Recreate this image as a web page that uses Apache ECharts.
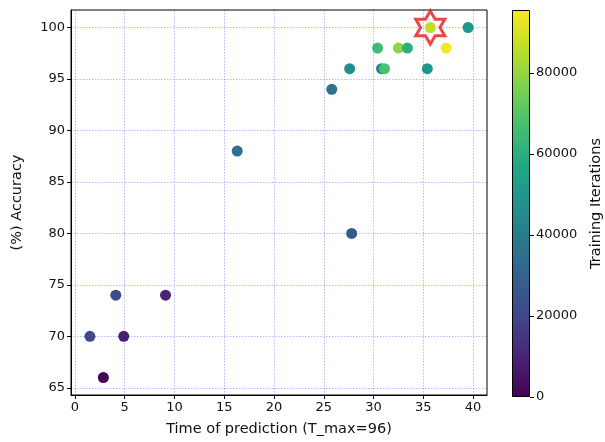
<!DOCTYPE html>
<html>
<head>
<meta charset="utf-8">
<script src="https://cdn.jsdelivr.net/npm/echarts@6/dist/echarts.min.js"></script>
<style>html,body{margin:0;padding:0;background:#fff;}#c{width:605px;height:442px;}</style>
</head>
<body>
<div id="c"></div>
<script>
// Data: [time of prediction, accuracy, training iterations]
const timeOfPrediction = [35.7, 39.5, 30.4, 32.5, 33.4, 37.3, 27.6, 30.8, 31.1, 35.4, 25.8, 16.3, 27.8, 4.1, 9.1, 1.5, 4.9, 2.85];
const accuracy =         [100,  100,  98,   98,   98,   98,   96,   96,   96,   96,   94,   88,   80,   74,  74,  70,  70,  66];
const iterations =       [86000, 50000, 65000, 79000, 60000, 94000, 47000, 43000, 68000, 50000, 36000, 35000, 27000, 22000, 10000, 21000, 8000, 1000];
const bestPoint = [[35.7, 100]];
const xTicks = [0, 5, 10, 15, 20, 25, 30, 35, 40];
const yTicks = [65, 70, 75, 80, 85, 90, 95, 100];
const cbTicks = [0, 20000, 40000, 60000, 80000];
const cbMax = 95500;

const viridis = ['#440154','#482475','#414487','#355f8d','#2a788e','#21918c','#22a884','#44bf70','#7ad151','#bddf26','#fde725'];
const points = timeOfPrediction.map((t, i) => [t, accuracy[i], iterations[i]]);

const font = 'DejaVu Sans';
const txt = '#111';
const tickFont = 13;
const nameFont = 14.5;
const gridLine = { show: true, lineStyle: { color: 'rgba(0,0,255,0.28)', type: [1.5, 1.5], width: 1 } };

const chart = echarts.init(document.getElementById('c'));
chart.setOption({
  animation: false,
  backgroundColor: '#fff',
  grid: [
    { left: 71, right: 118, top: 10, bottom: 45, show: true, borderColor: '#000', borderWidth: 1 },
    { left: 512, top: 10, width: 19, height: 387 }
  ],
  xAxis: [
    {
      type: 'value', gridIndex: 0, min: -0.4, max: 41.4,
      name: 'Time of prediction (T_max=96)', nameLocation: 'middle', nameGap: 27,
      nameTextStyle: { fontFamily: font, fontSize: nameFont, color: txt },
      axisLine: { show: true, onZero: false, lineStyle: { color: '#000' } },
      axisTick: { show: true, length: 4, lineStyle: { color: '#000' }, customValues: xTicks },
      axisLabel: { fontFamily: font, fontSize: tickFont, color: txt, margin: 6, customValues: xTicks },
      splitLine: gridLine
    },
    {
      type: 'category', gridIndex: 1, data: ['cb'], show: false
    }
  ],
  yAxis: [
    {
      type: 'value', gridIndex: 0, min: 64.3, max: 101.7,
      name: '(%) Accuracy', nameLocation: 'middle', nameGap: 46, nameRotate: 90,
      nameTextStyle: { fontFamily: font, fontSize: nameFont, color: txt },
      axisLine: { show: true, onZero: false, lineStyle: { color: '#000' } },
      axisTick: { show: true, length: 4, lineStyle: { color: '#000' }, customValues: yTicks },
      axisLabel: { fontFamily: font, fontSize: tickFont, color: txt, margin: 6, customValues: yTicks },
      splitLine: gridLine
    },
    {
      type: 'value', gridIndex: 1, min: 0, max: cbMax, position: 'right',
      name: 'Training Iterations', nameLocation: 'middle', nameGap: 59, nameRotate: 90,
      nameTextStyle: { fontFamily: font, fontSize: nameFont, color: txt },
      axisLine: { show: false },
      axisTick: { show: true, length: 4, lineStyle: { color: '#000' }, customValues: cbTicks },
      axisLabel: { fontFamily: font, fontSize: tickFont, color: txt, margin: 6, customValues: cbTicks,
        formatter: v => String(v) },
      splitLine: { show: false }
    }
  ],
  visualMap: {
    show: false, type: 'continuous', seriesIndex: 0, dimension: 2,
    min: 0, max: cbMax, inRange: { color: viridis }
  },
  series: [
    {
      type: 'scatter', xAxisIndex: 0, yAxisIndex: 0, data: points,
      symbol: 'circle', symbolSize: 11, z: 3,
      itemStyle: { opacity: 1 }
    },
    {
      type: 'scatter', xAxisIndex: 0, yAxisIndex: 0, data: bestPoint,
      symbol: 'path://M50,0 L64.43,25 L93.3,25 L78.87,50 L93.3,75 L64.43,75 L50,100 L35.57,75 L6.7,75 L21.13,50 L6.7,25 L35.57,25 Z',
      symbolSize: [29, 33], symbolKeepAspect: false, z: 2,
      itemStyle: { color: 'rgba(0,0,0,0)', borderColor: '#e31a1c', borderWidth: 3 }
    },
    {
      type: 'bar', xAxisIndex: 1, yAxisIndex: 1, data: [cbMax], barWidth: '100%', silent: true,
      itemStyle: {
        borderColor: '#000', borderWidth: 1,
        color: {
          type: 'linear', x: 0, y: 1, x2: 0, y2: 0,
          colorStops: viridis.map((c, i) => ({ offset: i / (viridis.length - 1), color: c }))
        }
      }
    }
  ]
});
</script>
</body>
</html>
